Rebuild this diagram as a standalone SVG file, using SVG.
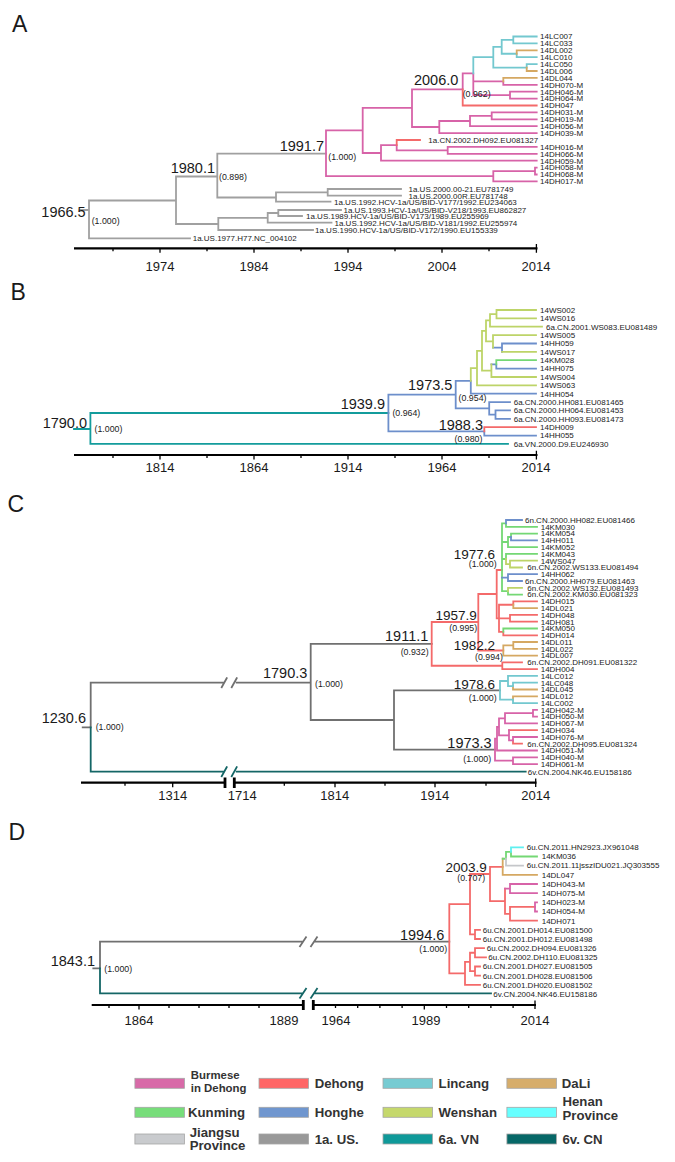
<svg xmlns="http://www.w3.org/2000/svg" width="675" height="1162" viewBox="0 0 675 1162">
<style>
text{font-family:"Liberation Sans",Arial,sans-serif;fill:#1a1a1a}
.t{font-size:8px}
.n{font-size:14.5px;text-anchor:end}
.n2{font-size:13.5px;text-anchor:end}
.p{font-size:8.8px}
.ax{font-size:13px;text-anchor:middle}
.pl{font-size:23px}
.lg{font-size:13.2px;font-weight:bold;fill:#333}
.ls{font-size:11.4px;font-weight:bold;fill:#333}
.br path{fill:none;stroke-width:1.8;stroke-linecap:square}
.g1{stroke:#a0a0a0}.gd{stroke:#707070}.pk{stroke:#d763a8}.rd{stroke:#f46a6a}.tl{stroke:#73c8cf}.or{stroke:#d5a862}.gr{stroke:#74d874}.bl{stroke:#6d8fcb}.yg{stroke:#bdd468}.cy{stroke:#5ff0f0}.lgy{stroke:#c5c7ca}.tv{stroke:#139c9c}.dt{stroke:#146666}
.axis path{fill:none;stroke:#000}
.ln{stroke-width:2.2}
.tk{stroke-width:1.3}
.bk{stroke-width:2.8}
.sw{stroke:#a5a5a5;stroke-width:0.8}
</style>
<rect width="675" height="1162" fill="#fff"/>

<!-- ================= PANEL A ================= -->
<g id="panel-A">
<text class="pl" x="12" y="32">A</text>
<g id="A-connectors" class="br">
<path class="g1" d="M80 210H89M89 200.5V238.3M89 200.5H176M176 176.5V224M176 176.5H217.3M217.3 153.7V197.5M217.3 153.7H326M217.3 197.5H276M276 192.3V201.7M276 192.3H327.7M327.7 189V195.7M327.7 189H401M327.7 195.7H401M276 201.7H330.5M176 224H218.3M218.3 217.9V230M218.3 217.9H267.7M267.7 213V222.7M267.7 213H278.3M278.3 210V216M278.3 210H341M278.3 216H302M267.7 222.7H331.5M218.3 230H313M89 238.3H190"/>
<path class="pk" d="M326 130.4V176.2M326 130.4H362.7M362.7 107.8V153M362.7 107.8H412M412 89.4V127M412 89.4H462.7M462.7 73.3V89.4M412 127H439.3M439.3 121V133.1M439.3 121H470M470 115.9V126.2M470 115.9H491.7M491.7 112.4V119.3M491.7 112.4H536.7M491.7 119.3H536.7M470 126.2H536.7M439.3 133.1H536.7M362.7 153H381M381 145.2V160.7M381 145.2H396.7M396.7 145.2V150.3M396.7 150.3H447.7M447.7 146.9V153.8M447.7 146.9H536.7M447.7 153.8H536.7M381 160.7H536.7M326 176.2H493.3M493.3 171.05V181.4M493.3 171.05H535M535 167.6V174.5M535 167.6H536.7M535 174.5H536.7M493.3 181.4H536.7M462.7 73.3H473.3M473.3 73.3V95.15M473.3 81.35H503.3M503.3 81.35V84.8M503.3 84.8H536.7M473.3 95.15H510M510 91.7V98.6M510 91.7H536.7M510 98.6H536.7"/>
<path class="rd" d="M462.7 89.4V105.5M462.7 105.5H536.7M396.7 140V145.2M396.7 140H420"/>
<path class="tl" d="M473.3 57.2V73.3M473.3 57.2H493.3M493.3 46.85V67.55M493.3 46.85H501.7M501.7 39.95V53.75M501.7 39.95H513.3M513.3 36.5V43.4M513.3 36.5H536.7M513.3 43.4H536.7M501.7 53.75H516.7M516.7 53.75V57.2M516.7 57.2H536.7M493.3 67.55H526.7M526.7 64.1V67.55M526.7 64.1H536.7"/>
<path class="or" d="M516.7 50.3V53.75M516.7 50.3H536.7M526.7 67.55V71M526.7 71H536.7M503.3 77.9V81.35M503.3 77.9H536.7"/>
</g>
<g id="A-tips" class="t">
<text x="540" y="39.3">14LC007</text>
<text x="540" y="46.2">14LC033</text>
<text x="540" y="53.1">14DL002</text>
<text x="540" y="60">14LC010</text>
<text x="540" y="66.9">14LC050</text>
<text x="540" y="73.8">14DL006</text>
<text x="540" y="80.7">14DL044</text>
<text x="540" y="87.6">14DH070-M</text>
<text x="540" y="94.5">14DH046-M</text>
<text x="540" y="101.4">14DH064-M</text>
<text x="540" y="108.3">14DH047</text>
<text x="540" y="115.2">14DH031-M</text>
<text x="540" y="122.1">14DH019-M</text>
<text x="540" y="129">14DH056-M</text>
<text x="540" y="135.9">14DH039-M</text>
<text x="428.3" y="142.8">1a.CN.2002.DH092.EU081327</text>
<text x="540" y="149.7">14DH016-M</text>
<text x="540" y="156.6">14DH066-M</text>
<text x="540" y="163.5">14DH059-M</text>
<text x="540" y="170.4">14DH058-M</text>
<text x="540" y="177.3">14DH068-M</text>
<text x="540" y="184.2">14DH017-M</text>
<text x="408.5" y="191.8">1a.US.2000.00-21.EU781749</text>
<text x="408.5" y="198.5">1a.US.2000.00R.EU781748</text>
<text x="334" y="204.5">1a.US.1992.HCV-1a/US/BID-V177/1992.EU234063</text>
<text x="343.5" y="212.8">1a.US.1993.HCV-1a/US/BID-V218/1993.EU862827</text>
<text x="306" y="218.8">1a.US.1989.HCV-1a/US/BID-V173/1989.EU255969</text>
<text x="334.5" y="225.5">1a.US.1992.HCV-1a/US/BID-V181/1992.EU255974</text>
<text x="315" y="232.8">1a.US.1990.HCV-1a/US/BID-V172/1990.EU155339</text>
<text x="192.7" y="241.1">1a.US.1977.H77.NC_004102</text>
</g>
<g id="A-nodes">
<text class="n" x="85.7" y="216.7">1966.5</text>
<text class="p" x="91.7" y="224">(1.000)</text>
<text class="n" x="215" y="173.3">1980.1</text>
<text class="p" x="219" y="180">(0.898)</text>
<text class="n" x="324" y="150.7">1991.7</text>
<text class="p" x="328.3" y="160">(1.000)</text>
<text class="n" x="458.3" y="85">2006.0</text>
<text class="p" x="462.7" y="97.3">(0.962)</text>
</g>
<g id="A-axis" class="axis">
<path class="ln" d="M74 248.3H537.5"/>
<path class="tk" d="M160 248.3v4.5M254 248.3v4.5M348 248.3v4.5M442 248.3v4.5M536.4 244v8.8M113 248.3v3M207 248.3v3M301 248.3v3M395 248.3v3M489 248.3v3"/>
<text class="ax" x="160" y="270.7">1974</text>
<text class="ax" x="254" y="270.7">1984</text>
<text class="ax" x="348" y="270.7">1994</text>
<text class="ax" x="442" y="270.7">2004</text>
<text class="ax" x="536" y="270.7">2014</text>
</g>
</g>

<!-- ================= PANEL B ================= -->
<g id="panel-B">
<text class="pl" x="10.5" y="300">B</text>
<g id="B-connectors" class="br">
<path class="tv" d="M74 429H90.4M90.4 413V443.9M90.4 413H388.4M90.4 443.9H508"/>
<path class="bl" d="M388.4 394.6V431.4M388.4 394.6H455.7M388.4 431.4H484.3M484.3 431.4V435.6M484.3 435.6H536M455.7 380.9V408.35M455.7 408.35H489.2M489.2 402.1V414.6M489.2 402.1H510M489.2 414.6H495.5M495.5 410.4V418.8M495.5 410.4H510M495.5 418.8H510M455.7 380.9H470.8M470.8 380.9V393.7M470.8 393.7H536M491.4 364.4H496.3M496.3 364.4V368.6M496.3 368.6H536M493 347.7H502M502 343.5V351.9M502 343.5H536"/>
<path class="rd" d="M484.3 427.2V431.4M484.3 427.2H536"/>
<path class="gr" d="M496.3 360.2V364.4M496.3 360.2H536"/>
<path class="yg" d="M470.8 368.05V380.9M470.8 368.05H477M477 350.8V385.3M477 385.3H536M477 350.8H482M482 330.9V370.7M482 370.7H491.4M491.4 364.4V377M491.4 377H536M482 330.9H486M486 320.45V341.4M486 320.45H490M490 314.2V326.7M490 314.2H496.5M496.5 310V318.4M496.5 310H536M496.5 318.4H536M490 326.7H542M486 341.4H493M493 335.1V347.7M493 335.1H536M502 351.9H536"/>
</g>
<g id="B-tips" class="t">
<text x="540" y="312.8">14WS002</text>
<text x="540" y="321.2">14WS016</text>
<text x="546" y="329.5">6a.CN.2001.WS083.EU081489</text>
<text x="540" y="337.9">14WS005</text>
<text x="540" y="346.3">14HH059</text>
<text x="540" y="354.7">14WS017</text>
<text x="540" y="363">14KM028</text>
<text x="540" y="371.4">14HH075</text>
<text x="540" y="379.8">14WS004</text>
<text x="540" y="388.1">14WS063</text>
<text x="540" y="396.5">14HH054</text>
<text x="513.7" y="404.9">6a.CN.2000.HH081.EU081465</text>
<text x="513.7" y="413.2">6a.CN.2000.HH064.EU081453</text>
<text x="513.7" y="421.6">6a.CN.2000.HH093.EU081473</text>
<text x="540" y="430">14DH009</text>
<text x="540" y="438.4">14HH055</text>
<text x="513.7" y="446.7">6a.VN.2000.D9.EU246930</text>
</g>
<g id="B-nodes">
<text class="n" x="87" y="427.5">1790.0</text>
<text class="p" x="94.5" y="432">(1.000)</text>
<text class="n" x="385" y="408.5">1939.9</text>
<text class="p" x="392.4" y="416.3">(0.964)</text>
<text class="n" x="452.4" y="390">1973.5</text>
<text class="p" x="458.6" y="401.3">(0.954)</text>
<text class="n" x="483" y="429.5">1988.3</text>
<text class="p" x="454.5" y="442">(0.980)</text>
</g>
<g id="B-axis" class="axis">
<path class="ln" d="M74 455H537.5"/>
<path class="tk" d="M160 455v4.5M254 455v4.5M348 455v4.5M442 455v4.5M536.4 450.7v8.8M113 455v3M207 455v3M301 455v3M395 455v3M489 455v3"/>
<text class="ax" x="160" y="472">1814</text>
<text class="ax" x="254" y="472">1864</text>
<text class="ax" x="348" y="472">1914</text>
<text class="ax" x="442" y="472">1964</text>
<text class="ax" x="536" y="472">2014</text>
</g>
</g>

<!-- ================= PANEL C ================= -->
<g id="panel-C">
<text class="pl" x="7.5" y="512">C</text>
<g id="C-connectors" class="br">
<path class="gd" d="M82.7 727.3H90.7M90.7 682.7V727.3M90.7 682.7H223.3M236.7 682.7H310.7M221.7 687.2L226.7 678.2M231.7 687.2L236.7 678.2M310.7 643.9V720M310.7 643.9H431.7M310.7 720H394M394 690.35V749.7M394 690.35H500M394 749.7H495"/>
<path class="dt" d="M90.7 727.3V771.7M90.7 771.7H223.3M236.7 771.7H525.7M221.7 776.2L226.7 767.2M231.7 776.2L236.7 767.2"/>
<path class="rd" d="M431.7 622V665.75M431.7 665.75H502.3M502.3 662.4V669.1M502.3 662.4H522M502.3 669.1H537M431.7 622H478.3M478.3 594V650.5M478.3 650.5H503.3M478.3 594H496.7M496.7 570V618.3M496.7 570H502M496.7 618.3H499M499 604.75V631.9M499 604.75H513.3M513.3 601.4V604.75M513.3 601.4H537M499 618.3H510M510 614.9V621.7M510 614.9H537M510 621.7H537M499 631.9H503.3M503.3 631.9V635.3M503.3 635.3H537M509 730.2H537M513 740.35V743.7M513 743.7H522"/>
<path class="or" d="M513.3 604.75V608.1M513.3 608.1H537M503.3 645.4V655.6M503.3 645.4H513.3M513.3 642V648.8M513.3 642H537M513.3 648.8H537M503.3 655.6H537M513 686.1V689.5M513 689.5H537M513 696.3V699.7M513 696.3H537"/>
<path class="gr" d="M502 523.4V591.2M502 523.4H506M506 523.4V526.8M506 526.8H537M502 542H508M508 537V547.1M508 547.1H537M508 537H511M511 533.6V537M511 533.6H537M502 559H506M506 553.9V559M506 553.9H537M502 591.2H508M508 591.2V594.6M508 594.6H522M503.3 628.5V631.9M503.3 628.5H537"/>
<path class="bl" d="M506 520V523.4M506 520H522M511 537V540.3M511 540.3H537M502 577.6H508M508 574.2V581M508 574.2H537M508 581H522"/>
<path class="yg" d="M506 559V564.1M506 564.1H510M510 560.7V567.5M510 560.7H537M510 567.5H522M508 587.8V591.2M508 587.8H522"/>
<path class="tl" d="M500 681V699.7M500 681H508M508 675.9V686.1M508 675.9H537M508 686.1H513M513 682.7V686.1M513 682.7H537M500 699.7H513M513 699.7V703.1M513 703.1H537"/>
<path class="pk" d="M495 738.65V760.7M495 738.65H497M497 726.8V750.5M497 750.5H537M497 726.8H499M499 718.3V735.3M499 718.3H505M505 713.2V723.4M505 713.2H533M533 709.8V716.6M533 709.8H537M533 716.6H537M505 723.4H537M499 735.3H509M509 730.2V740.35M509 740.35H513M513 737V740.35M513 737H537M495 760.7H513M513 757.3V764.1M513 757.3H537M513 764.1H537"/>
</g>
<g id="C-tips" class="t">
<text x="525" y="522.8">6n.CN.2000.HH082.EU081466</text>
<text x="540.7" y="529.6">14KM030</text>
<text x="540.7" y="536.4">14KM054</text>
<text x="540.7" y="543.1">14HH011</text>
<text x="540.7" y="549.9">14KM052</text>
<text x="540.7" y="556.7">14KM043</text>
<text x="540.7" y="563.5">14WS047</text>
<text x="527.3" y="570.3">6n.CN.2002.WS133.EU081494</text>
<text x="540.7" y="577">14HH062</text>
<text x="525" y="583.8">6n.CN.2000.HH079.EU081463</text>
<text x="527.3" y="590.6">6n.CN.2002.WS132.EU081493</text>
<text x="527.3" y="597.4">6n.CN.2002.KM030.EU081323</text>
<text x="540.7" y="604.2">14DH015</text>
<text x="540.7" y="610.9">14DL021</text>
<text x="540.7" y="617.7">14DH048</text>
<text x="540.7" y="624.5">14DH081</text>
<text x="540.7" y="631.3">14KM050</text>
<text x="540.7" y="638.1">14DH014</text>
<text x="540.7" y="644.8">14DL011</text>
<text x="540.7" y="651.6">14DL022</text>
<text x="540.7" y="658.4">14DL007</text>
<text x="527.3" y="665.2">6n.CN.2002.DH091.EU081322</text>
<text x="540.7" y="671.9">14DH004</text>
<text x="540.7" y="678.7">14LC012</text>
<text x="540.7" y="685.5">14LC048</text>
<text x="540.7" y="692.3">14DL045</text>
<text x="540.7" y="699.1">14DL012</text>
<text x="540.7" y="705.9">14LC002</text>
<text x="540.7" y="712.6">14DH042-M</text>
<text x="540.7" y="719.4">14DH050-M</text>
<text x="540.7" y="726.2">14DH067-M</text>
<text x="540.7" y="733">14DH034</text>
<text x="540.7" y="739.8">14DH076-M</text>
<text x="527.3" y="746.5">6n.CN.2002.DH095.EU081324</text>
<text x="540.7" y="753.3">14DH051-M</text>
<text x="540.7" y="760.1">14DH040-M</text>
<text x="540.7" y="766.9">14DH061-M</text>
<text x="527.7" y="774.5">6v.CN.2004.NK46.EU158186</text>
</g>
<g id="C-nodes">
<text class="n" x="86" y="723.3">1230.6</text>
<text class="p" x="95.7" y="729.7">(1.000)</text>
<text class="n" x="307.3" y="678.3">1790.3</text>
<text class="p" x="315" y="687">(1.000)</text>
<text class="n" x="428.3" y="640.7">1911.1</text>
<text class="p" x="400.7" y="655">(0.932)</text>
<text class="n2" x="476.7" y="620">1957.9</text>
<text class="p" x="449.3" y="631.3">(0.995)</text>
<text class="n2" x="495" y="559">1977.6</text>
<text class="p" x="468.8" y="567">(1.000)</text>
<text class="n2" x="495" y="650">1982.2</text>
<text class="p" x="475" y="660.3">(0.994)</text>
<text class="n2" x="495" y="689">1978.6</text>
<text class="p" x="468.8" y="701.3">(1.000)</text>
<text class="n" x="491.7" y="747.5">1973.3</text>
<text class="p" x="463.3" y="762.3">(1.000)</text>
</g>
<g id="C-axis" class="axis">
<path class="ln" d="M81 782.7H225M234.3 782.7H536.5"/>
<path class="bk" d="M225 777.5V788M234.3 777.5V788"/>
<path class="tk" d="M125 782.7v3M172.7 782.7v4.5M284.3 782.7v3M335 782.7v4.5M385 782.7v3M435 782.7v4.5M486 782.7v3M535.7 778.5v8.5"/>
<text class="ax" x="172.7" y="800">1314</text>
<text class="ax" x="242.3" y="800">1714</text>
<text class="ax" x="334.7" y="800">1814</text>
<text class="ax" x="434.7" y="800">1914</text>
<text class="ax" x="535.7" y="800">2014</text>
</g>
</g>

<!-- ================= PANEL D ================= -->
<g id="panel-D">
<text class="pl" x="8.5" y="840">D</text>
<g id="D-connectors" class="br">
<path class="gd" d="M93.3 968.3H100M100 941.7V968.3M100 941.7H302M300 946.2L306 937.2M311 946.2L317 937.2M315 941.7H449.3"/>
<path class="dt" d="M100 968.3V993.3M100 993.3H302M315 993.3H491M300 997.8L306 988.8M311 997.8L317 988.8"/>
<path class="rd" d="M449.3 904.2V973.4M449.3 904.2H470M470 874V934.4M470 934.4H475M475 929.8V939M475 929.8H480M475 939H480M470 874H490M490 866.8V901.2M490 866.8H502.7M490 901.2H505M505 888.6V913.8M505 913.8H510M510 906.9V920.7M510 920.7H537M510 906.9H535M449.3 973.4H465M465 961.9V984.9M465 984.9H480M465 961.9H470M470 952.75V971.1M470 952.75H475M475 948.2V957.3M475 948.2H484M475 957.3H486M470 971.1H475M475 966.5V975.7M475 966.5H480M475 975.7H480"/>
<path class="pk" d="M505 888.6H510M510 884V893.2M510 884H537M510 893.2H537M535 902.3V911.5M535 902.3H537M535 911.5H537"/>
<path class="or" d="M502.7 858.75V874.8M502.7 874.8H537"/>
<path class="gr" d="M502.7 858.75H506M506 851.9V858.75M506 851.9H511M511 851.9V856.5M511 856.5H537"/>
<path class="lgy" d="M506 858.75V865.6M506 865.6H523"/>
<path class="cy" d="M511 847.3V851.9M511 847.3H523"/>
</g>
<g id="D-tips" class="t">
<text x="526.7" y="850.1">6u.CN.2011.HN2923.JX961048</text>
<text x="541.7" y="859.3">14KM036</text>
<text x="526.7" y="868.4">6u.CN.2011.11jsszIDU021.JQ303555</text>
<text x="541.7" y="877.6">14DL047</text>
<text x="541.7" y="886.8">14DH043-M</text>
<text x="541.7" y="896">14DH075-M</text>
<text x="541.7" y="905.1">14DH023-M</text>
<text x="541.7" y="914.3">14DH054-M</text>
<text x="541.7" y="923.5">14DH071</text>
<text x="482.7" y="932.6">6u.CN.2001.DH014.EU081500</text>
<text x="482.7" y="941.8">6u.CN.2001.DH012.EU081498</text>
<text x="486.7" y="951">6u.CN.2002.DH094.EU081326</text>
<text x="488.3" y="960.1">6u.CN.2002.DH110.EU081325</text>
<text x="482.7" y="969.3">6u.CN.2001.DH027.EU081505</text>
<text x="482.7" y="978.5">6u.CN.2001.DH028.EU081506</text>
<text x="482.7" y="987.7">6u.CN.2001.DH020.EU081502</text>
<text x="493.3" y="996.8">6v.CN.2004.NK46.EU158186</text>
</g>
<g id="D-nodes">
<text class="n" x="95" y="965.7">1843.1</text>
<text class="p" x="104.3" y="972.3">(1.000)</text>
<text class="n" x="444.3" y="940">1994.6</text>
<text class="p" x="419.3" y="952">(1.000)</text>
<text class="n2" x="486.7" y="871.7">2003.9</text>
<text class="p" x="457.3" y="881.3">(0.707)</text>
</g>
<g id="D-axis" class="axis">
<path class="ln" d="M91.7 1005H303.3M313.3 1005H536"/>
<path class="bk" d="M303.3 1000V1010M313.3 1000V1010"/>
<path class="tk" d="M109 1005v3M139 1005v4.5M169 1005v3M199 1005v3M229 1005v3M259 1005v3M335.5 1005v3M357.7 1005v3M379.9 1005v3M402.1 1005v3M424.3 1005v4.5M446.5 1005v3M468.7 1005v3M490.9 1005v3M513.1 1005v3M535 1000.5v8.5"/>
<text class="ax" x="139" y="1025">1864</text>
<text class="ax" x="284" y="1025">1889</text>
<text class="ax" x="336" y="1025">1964</text>
<text class="ax" x="426" y="1025">1989</text>
<text class="ax" x="535" y="1025">2014</text>
</g>
</g>

<!-- ================= LEGEND ================= -->
<g id="legend">
<g id="leg-burmese"><rect class="sw" x="134.9" y="1078.3" width="49.5" height="10" fill="#d86aa8"/><text class="ls" x="190.8" y="1079">Burmese</text><text class="ls" x="190.8" y="1092.4">in Dehong</text></g>
<g id="leg-dehong"><rect class="sw" x="259" y="1078.3" width="49.5" height="10" fill="#ff6666"/><text class="lg" x="314.7" y="1088">Dehong</text></g>
<g id="leg-lincang"><rect class="sw" x="383" y="1078.3" width="49.5" height="10" fill="#77cbd2"/><text class="lg" x="438.6" y="1088">Lincang</text></g>
<g id="leg-dali"><rect class="sw" x="506.9" y="1078.3" width="49.5" height="10" fill="#d6ad6b"/><text class="lg" x="561.8" y="1088">DaLi</text></g>
<g id="leg-kunming"><rect class="sw" x="134.9" y="1107.3" width="49.5" height="10" fill="#77dd7a"/><text class="lg" x="188" y="1117.4">Kunming</text></g>
<g id="leg-honghe"><rect class="sw" x="259" y="1107.3" width="49.5" height="10" fill="#6f96cf"/><text class="lg" x="314.7" y="1117.4">Honghe</text></g>
<g id="leg-wenshan"><rect class="sw" x="383" y="1107.3" width="49.5" height="10" fill="#c5d86c"/><text class="lg" x="438.6" y="1117.4">Wenshan</text></g>
<g id="leg-henan"><rect class="sw" x="506.9" y="1107.3" width="49.5" height="10" fill="#66ffff"/><text class="lg" x="562.5" y="1106.4">Henan</text><text class="lg" x="562.5" y="1119.7">Province</text></g>
<g id="leg-jiangsu"><rect class="sw" x="134.9" y="1134" width="49.5" height="10" fill="#c9cbce"/><text class="lg" x="189.7" y="1137.4">Jiangsu</text><text class="lg" x="189.7" y="1149.7">Province</text></g>
<g id="leg-1aus"><rect class="sw" x="259" y="1134" width="49.5" height="10" fill="#999999"/><text class="lg" x="314.7" y="1144">1a. US.</text></g>
<g id="leg-6avn"><rect class="sw" x="383" y="1134" width="49.5" height="10" fill="#0f9999"/><text class="lg" x="438.6" y="1144">6a. VN</text></g>
<g id="leg-6vcn"><rect class="sw" x="506.9" y="1134" width="49.5" height="10" fill="#066767"/><text class="lg" x="562.5" y="1144">6v. CN</text></g>
</g>
</svg>
